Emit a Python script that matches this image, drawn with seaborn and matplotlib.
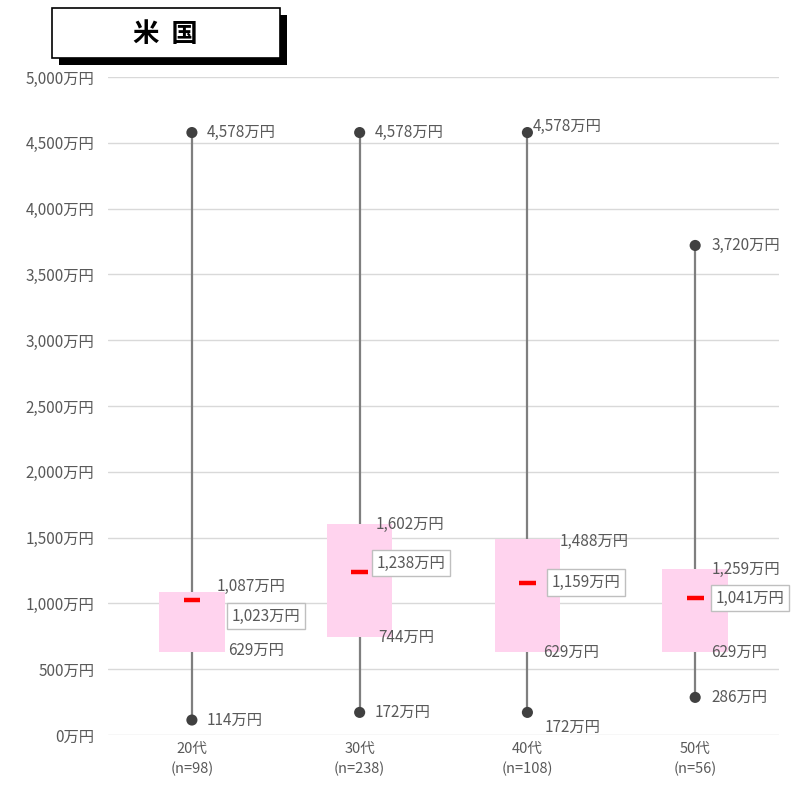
import numpy as np
import pandas as pd
import matplotlib.pyplot as plt
import matplotlib.patches as patches
import seaborn as sns

# data
ages = ["20代", "30代", "40代", "50代"]
n_counts = [98, 238, 108, 56]
v_max = [4578, 4578, 4578, 3720]
v_q3 = [1087, 1602, 1488, 1259]
v_med = [1023, 1238, 1159, 1041]
v_q1 = [629, 744, 629, 629]
v_min = [114, 172, 172, 286]

# label offsets in pixels (dx, dy)
off_max = [(15, 0), (15, 0), (5, 6), (16, 0)]
off_min = [(15, 0), (15, 0), (17, -15), (16, 0)]
off_q3 = [(25, 6), (16, 0), (32, -2), (16, 0)]
off_q1 = [(36, 2), (19, 0), (16, 0), (16, 0)]
off_med = [(40, -16), (17, 9), (24, 0), (20, 0)]

sns.set_theme(style="white")
plt.rcParams['font.family'] = ['Noto Sans CJK JP', 'DejaVu Sans']

txt_col = "#595959"
fig = plt.figure(figsize=(7.96, 7.89), dpi=100)
ax = fig.add_axes([0.1357, 0.0684, 0.8430, 0.8340])

pos = np.arange(len(ages))
df = pd.DataFrame({"age": ages, "iqr": np.array(v_q3) - np.array(v_q1)})

# whiskers
ax.vlines(pos, v_min, v_max, color="#7f7f7f", lw=1.6, zorder=2)

# boxes
sns.barplot(data=df, x="age", y="iqr", bottom=v_q1, color="#ffd3ee",
            width=0.39, saturation=1, ax=ax, zorder=3, linewidth=0)

# dots
sns.scatterplot(x=np.concatenate([pos, pos]), y=v_max + v_min, color="#404040",
                s=64, edgecolor="none", ax=ax, zorder=4)

# medians
ax.hlines(v_med, pos - 0.05, pos + 0.05, color="#ff0000", lw=3.2, zorder=5)

def lab(i, val, off, boxed=False):
    kw = dict(textcoords="offset pixels", ha="left", va="center",
              fontsize=11, color=txt_col, zorder=6, annotation_clip=False)
    if boxed:
        kw["bbox"] = dict(boxstyle="square,pad=0.3", fc="white", ec="#bfbfbf", lw=1)
    ax.annotate(f"{val:,}万円", (pos[i], val), xytext=off, **kw)

for i in range(len(ages)):
    lab(i, v_max[i], off_max[i])
    lab(i, v_min[i], off_min[i])
    lab(i, v_q3[i], off_q3[i])
    lab(i, v_q1[i], off_q1[i])
    lab(i, v_med[i], off_med[i], boxed=True)

ax.set_xlim(-0.5, 3.5)
ax.set_ylim(0, 5000)
ax.set_yticks(np.arange(0, 5001, 500))
ax.set_yticklabels([f"{t:,}万円" for t in range(0, 5001, 500)], fontsize=11, color=txt_col)
ax.set_xticks(pos)
ax.set_xticklabels([f"{a}\n(n={n})" for a, n in zip(ages, n_counts)],
                   fontsize=10.5, color=txt_col, linespacing=1.5)
ax.tick_params(axis="y", length=0, pad=10)
ax.tick_params(axis="x", length=0, pad=5)
ax.set_xlabel("")
ax.set_ylabel("")
ax.yaxis.grid(True, color="#d9d9d9", lw=1)
ax.set_axisbelow(True)
for s in ax.spines.values():
    s.set_visible(False)

# title box with shadow
W, H = 796, 789
shadow = patches.Rectangle((59 / W, 1 - 65 / H), 228 / W, 50 / H, transform=fig.transFigure,
                           fc="black", ec="none", zorder=1)
box = patches.Rectangle((52 / W, 1 - 58 / H), 228 / W, 50 / H, transform=fig.transFigure,
                        fc="white", ec="black", lw=1.2, zorder=2)
fig.patches.extend([shadow, box])
fig.text(165 / W, 1 - 34 / H, "米  国", ha="center", va="center", fontsize=19,
         fontweight="bold", color="black", zorder=3)

plt.savefig("out.png", dpi=100)
